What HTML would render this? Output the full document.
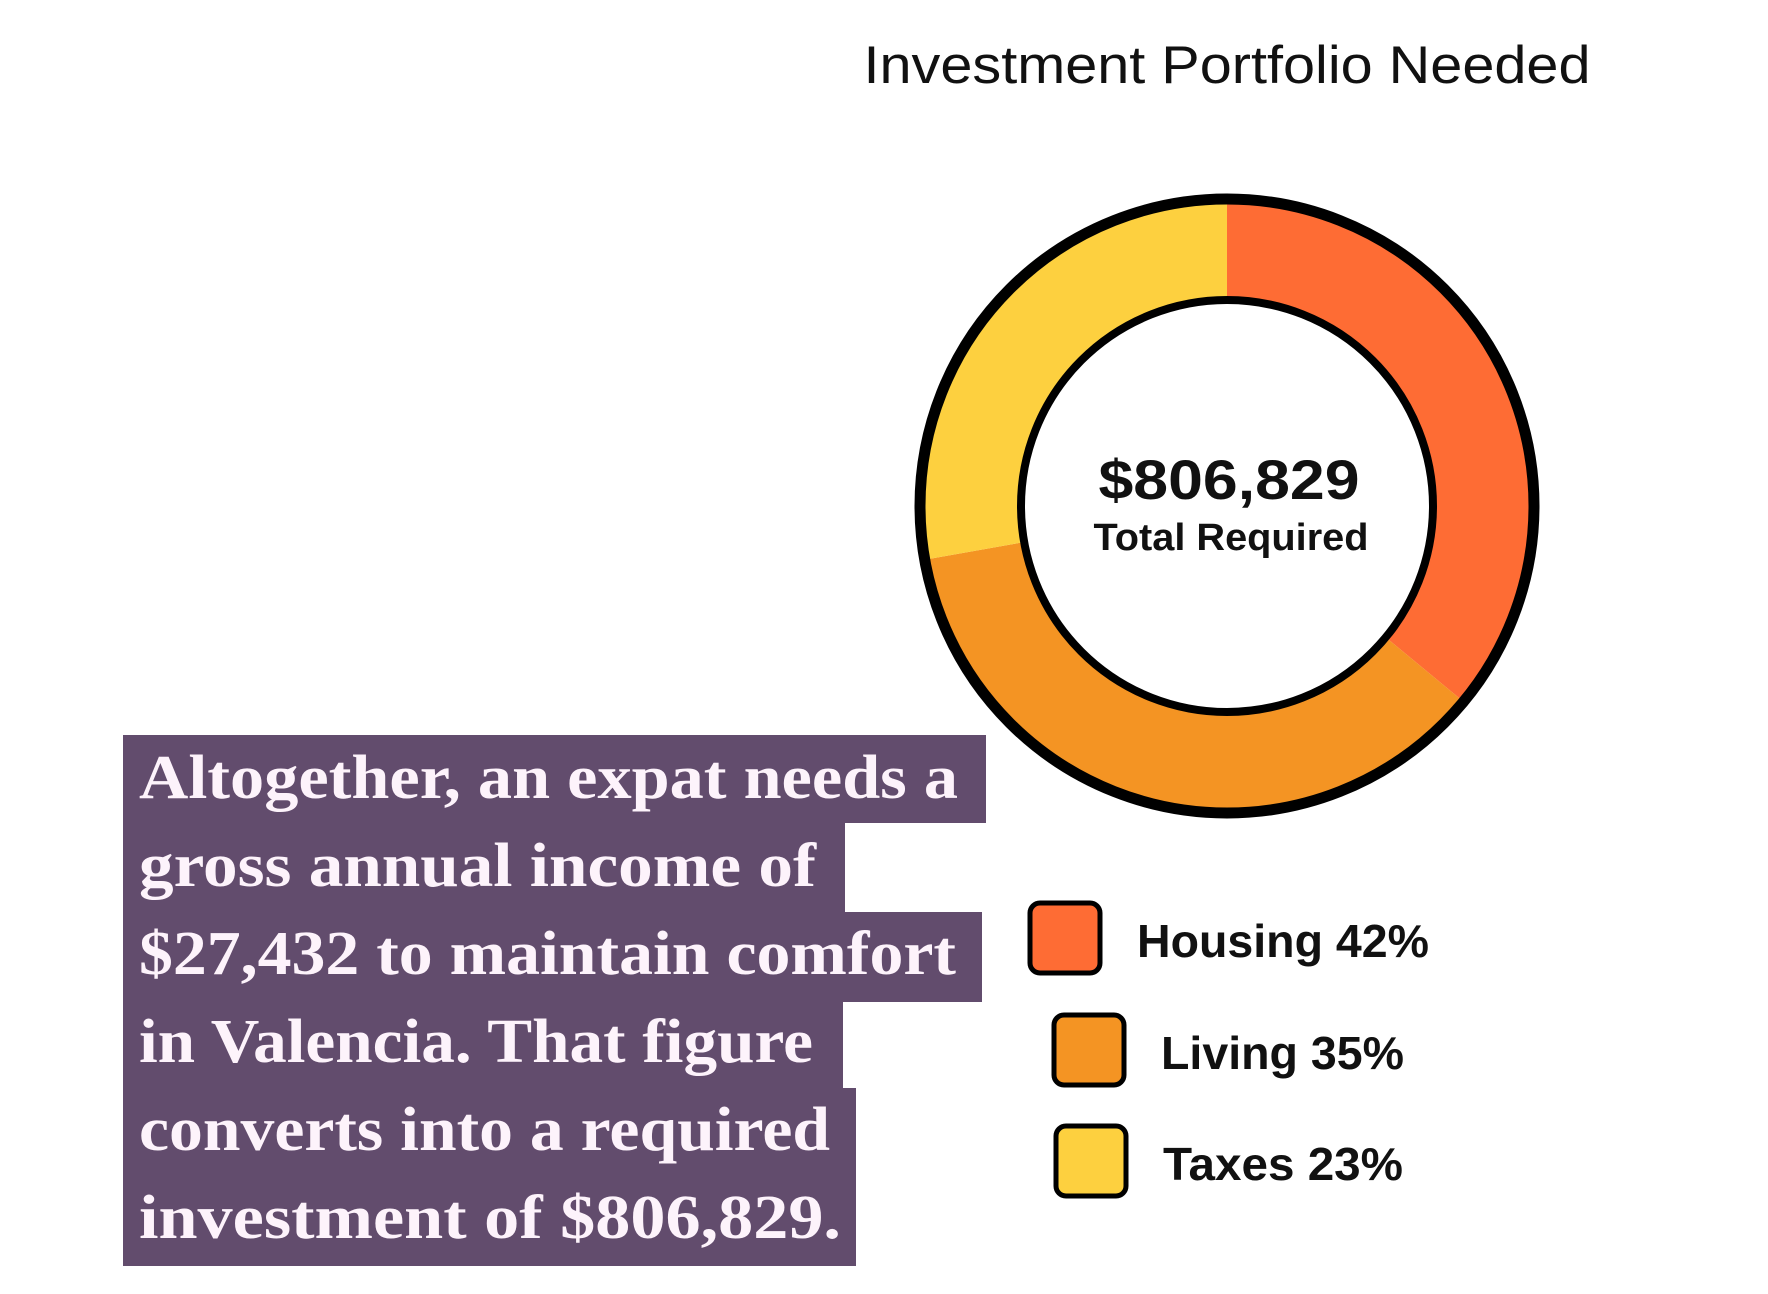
<!DOCTYPE html>
<html><head><meta charset="utf-8"><style>
html,body{margin:0;padding:0;background:#fff;}
svg{display:block;}
</style></head><body>
<svg id="chart" width="1768" height="1294" viewBox="0 0 1768 1294" xmlns="http://www.w3.org/2000/svg">
<text x="1227" y="83" text-anchor="middle" font-family="Liberation Sans, sans-serif" font-size="53" fill="#111" textLength="727" lengthAdjust="spacingAndGlyphs">Investment Portfolio Needed</text>
<g id="donut"></g>
<circle cx="1227" cy="506" r="307" fill="none" stroke="#000" stroke-width="11"/>
<circle cx="1227" cy="506" r="206" fill="#fff" stroke="#000" stroke-width="8"/>
<text x="1229" y="499" text-anchor="middle" font-family="Liberation Sans, sans-serif" font-weight="bold" font-size="56" fill="#111" textLength="261" lengthAdjust="spacingAndGlyphs">$806,829</text>
<text x="1231" y="550" text-anchor="middle" font-family="Liberation Sans, sans-serif" font-weight="bold" font-size="38" fill="#111" textLength="275" lengthAdjust="spacingAndGlyphs">Total Required</text>
<g id="legend"></g>
<g>
<rect x="123" y="735" width="863" height="88" fill="#624c6d"/>
<rect x="123" y="821" width="722" height="93" fill="#624c6d"/>
<rect x="123" y="912" width="859" height="90" fill="#624c6d"/>
<rect x="123" y="1000" width="720" height="90" fill="#624c6d"/>
<rect x="123" y="1088" width="733" height="91" fill="#624c6d"/>
<rect x="123" y="1177" width="733" height="89" fill="#624c6d"/>
<g font-family="Liberation Serif, serif" font-weight="bold" font-size="62" fill="#fdf3fb">
<text x="139" y="798" textLength="819" lengthAdjust="spacingAndGlyphs">Altogether, an expat needs a</text>
<text x="139" y="886" textLength="677" lengthAdjust="spacingAndGlyphs">gross annual income of</text>
<text x="139" y="974" textLength="817" lengthAdjust="spacingAndGlyphs">$27,432 to maintain comfort</text>
<text x="139" y="1062" textLength="674" lengthAdjust="spacingAndGlyphs">in Valencia. That figure</text>
<text x="139" y="1150" textLength="691" lengthAdjust="spacingAndGlyphs">converts into a required</text>
<text x="139" y="1238" textLength="702" lengthAdjust="spacingAndGlyphs">investment of $806,829.</text>
</g>
</g>
</svg>
<script>
const categories = ["Housing", "Living", "Taxes"];
const labelPercents = [42, 35, 23];
const arcShares = [36, 36.2, 27.8];
const colors = ["#fe6c34", "#f49423", "#fdd03f"];

const NS = "http://www.w3.org/2000/svg";
const cx = 1227, cy = 506, rOut = 305, rIn = 206;
const total = arcShares.reduce((a, b) => a + b, 0);
function angleOf(v) { return v / total * 2 * Math.PI; }
function pt(r, a) { return [cx + r * Math.sin(a), cy - r * Math.cos(a)]; }
const donut = document.getElementById("donut");
let acc = 0;
arcShares.forEach((v, i) => {
  const a0 = angleOf(acc), a1 = angleOf(acc + v);
  acc += v;
  const large = (a1 - a0) > Math.PI ? 1 : 0;
  const p0 = pt(rOut, a0), p1 = pt(rOut, a1), q1 = pt(rIn, a1), q0 = pt(rIn, a0);
  const d = `M${p0[0]},${p0[1]} A${rOut},${rOut} 0 ${large} 1 ${p1[0]},${p1[1]} L${q1[0]},${q1[1]} A${rIn},${rIn} 0 ${large} 0 ${q0[0]},${q0[1]} Z`;
  const path = document.createElementNS(NS, "path");
  path.setAttribute("d", d);
  path.setAttribute("fill", colors[i]);
  
  
  donut.appendChild(path);
});

const legend = document.getElementById("legend");
const boxX = [1027, 1051, 1053], boxY = [900, 1012, 1123];
const textW = [292, 243, 240];
categories.forEach((c, i) => {
  const r = document.createElementNS(NS, "rect");
  r.setAttribute("x", boxX[i] + 3); r.setAttribute("y", boxY[i] + 3);
  r.setAttribute("width", 70); r.setAttribute("height", 70);
  r.setAttribute("rx", 10);
  r.setAttribute("fill", colors[i]); r.setAttribute("stroke", "#000"); r.setAttribute("stroke-width", 5);
  
  
  legend.appendChild(r);
  const t = document.createElementNS(NS, "text");
  t.setAttribute("x", boxX[i] + 110); t.setAttribute("y", boxY[i] + 57);
  t.setAttribute("font-family", "Liberation Sans, sans-serif");
  t.setAttribute("font-weight", "bold");
  t.setAttribute("font-size", "46");
  t.setAttribute("fill", "#111");
  t.setAttribute("textLength", textW[i]);
  t.setAttribute("lengthAdjust", "spacingAndGlyphs");
  t.textContent = c + " " + labelPercents[i] + "%";
  
  
  legend.appendChild(t);
});
</script>
</body></html>
